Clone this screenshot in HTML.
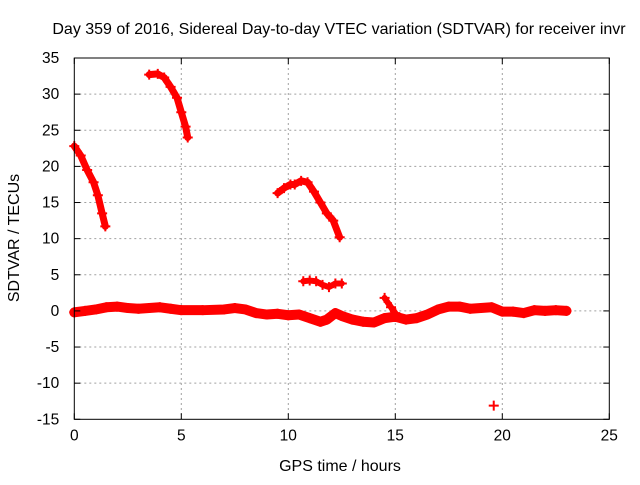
<!DOCTYPE html>
<html><head><meta charset="utf-8"><style>
body{margin:0;background:#fff}
svg text{font-family:"Liberation Sans",sans-serif;font-size:15.5px;fill:#000}
</style></head><body>
<svg id="c" width="640" height="480" xmlns="http://www.w3.org/2000/svg">
<rect width="640" height="480" fill="#fff"/>
<g id="grid"></g><g id="data"></g><g id="axes"></g>
<text x="339" y="34" text-anchor="middle" style="font-size:16px">Day 359 of 2016, Sidereal Day-to-day VTEC variation (SDTVAR) for receiver invr</text>
<text x="340" y="471" text-anchor="middle" style="font-size:16px">GPS time / hours</text>
<text transform="translate(19,238) rotate(-90)" text-anchor="middle" style="font-size:16px">SDTVAR / TECUs</text>
</svg>
<script>
const xTicks=[0,5,10,15,20,25];
const yTicks=[35,30,25,20,15,10,5,0,-5,-10,-15];
const segA_t=[0,0.3,0.6,0.9,1.1,1.3,1.45];
const segA_v=[22.8,21.5,19.5,17.8,16,13.5,11.7];
const segB_t=[3.5,3.9,4.2,4.5,4.8,5.0,5.2,5.3];
const segB_v=[32.7,32.8,32.3,31,29.5,27.5,25.5,24];
const segC_t=[9.5,9.8,10.1,10.3,10.6,10.9,11.2,11.5,11.8,12.1,12.4];
const segC_v=[16.3,17,17.5,17.5,18,17.8,16.5,15,13.5,12.5,10.2];
const segD_t=[10.7,11,11.3,11.6,11.9,12.2,12.5];
const segD_v=[4.1,4.2,4.1,3.6,3.3,3.8,3.8];
const segE_t=[0,0.5,1,1.5,2,2.5,3,3.5,4,4.5,5,6,7,7.5,8,8.5,9,9.5,10,10.5,11,11.5,11.8,12.2,12.5,13,13.5,14,14.5,15,15.5,16,16.5,17,17.5,18,18.5,19,19.5,20,20.5,21,21.5,22,22.5,23];
const segE_v=[-0.2,0,0.2,0.5,0.6,0.4,0.3,0.4,0.5,0.3,0.1,0.1,0.2,0.4,0.2,-0.3,-0.5,-0.4,-0.6,-0.5,-1,-1.5,-1.2,-0.3,-0.7,-1.2,-1.5,-1.6,-1,-0.8,-1.2,-1,-0.5,0.2,0.6,0.6,0.3,0.4,0.5,-0.1,-0.1,-0.3,0.1,0,0.1,0];
const segF_t=[14.5,14.8,15];
const segF_v=[1.8,0.5,-0.3];
const segG_t=[19.6];
const segG_v=[-13.1];
const L=74.3,R=609.3,T=58,B=419.3;
const X=t=>L+(t-0)/25*(R-L);
const Y=v=>B-(v+15)/50*(B-T);
const NS="http://www.w3.org/2000/svg";
function mk(tag,attrs,parent){const e=document.createElementNS(NS,tag);for(const k in attrs)e.setAttribute(k,attrs[k]);parent.appendChild(e);return e;}
const grid=document.getElementById('grid'),axes=document.getElementById('axes'),data=document.getElementById('data');
xTicks.forEach(t=>{const x=X(t);
 if(t>0&&t<25){const g=mk('line',{x1:x,x2:x,y1:T,y2:B,stroke:'#a0a0a0','stroke-dasharray':'2,3'},grid);
 
 }
 mk('line',{x1:x,x2:x,y1:B,y2:B-6,stroke:'#000'},axes);
 mk('line',{x1:x,x2:x,y1:T,y2:T+6,stroke:'#000'},axes);
 const tx=mk('text',{x:x,y:B+21,'text-anchor':'middle'},axes);tx.textContent=t;
 
 
});
yTicks.forEach(v=>{const y=Y(v);
 if(v>-15&&v<35){const g=mk('line',{x1:L,x2:R,y1:y,y2:y,stroke:'#a0a0a0','stroke-dasharray':'2,3'},grid);
 
 }
 mk('line',{x1:L,x2:L+6,y1:y,y2:y,stroke:'#000'},axes);
 mk('line',{x1:R,x2:R-6,y1:y,y2:y,stroke:'#000'},axes);
 const tx=mk('text',{x:L-15,y:y+5,'text-anchor':'end'},axes);tx.textContent=v;
 
 
});
const fr=mk('rect',{x:L,y:T,width:R-L,height:B-T,fill:'none',stroke:'#000','stroke-width':1},axes);


const segs=[[segA_t,segA_v,'segment-a',7],[segB_t,segB_v,'segment-b',7],[segC_t,segC_v,'segment-c',7],[segD_t,segD_v,'segment-d',6],[segE_t,segE_v,'segment-baseline',10],[segF_t,segF_v,'segment-spike',6],[segG_t,segG_v,'segment-outlier',4]];
segs.forEach(([ts,vs,name,w])=>{
 const pts=ts.map((t,i)=>X(t)+','+Y(vs[i])).join(' ');
 const p=mk('polyline',{points:pts,fill:'none',stroke:'#ff0000','stroke-width':w,'stroke-linejoin':'round','stroke-linecap':'round'},data);
 
 
 ts.forEach((t,i)=>{const x=X(t),y=Y(vs[i]);
  const m=mk('path',{d:`M${x-5},${y}H${x+5}M${x},${y-5}V${y+5}`,stroke:'#ff0000','stroke-width':2},data);
  
  
 });
});
</script>
</body></html>
